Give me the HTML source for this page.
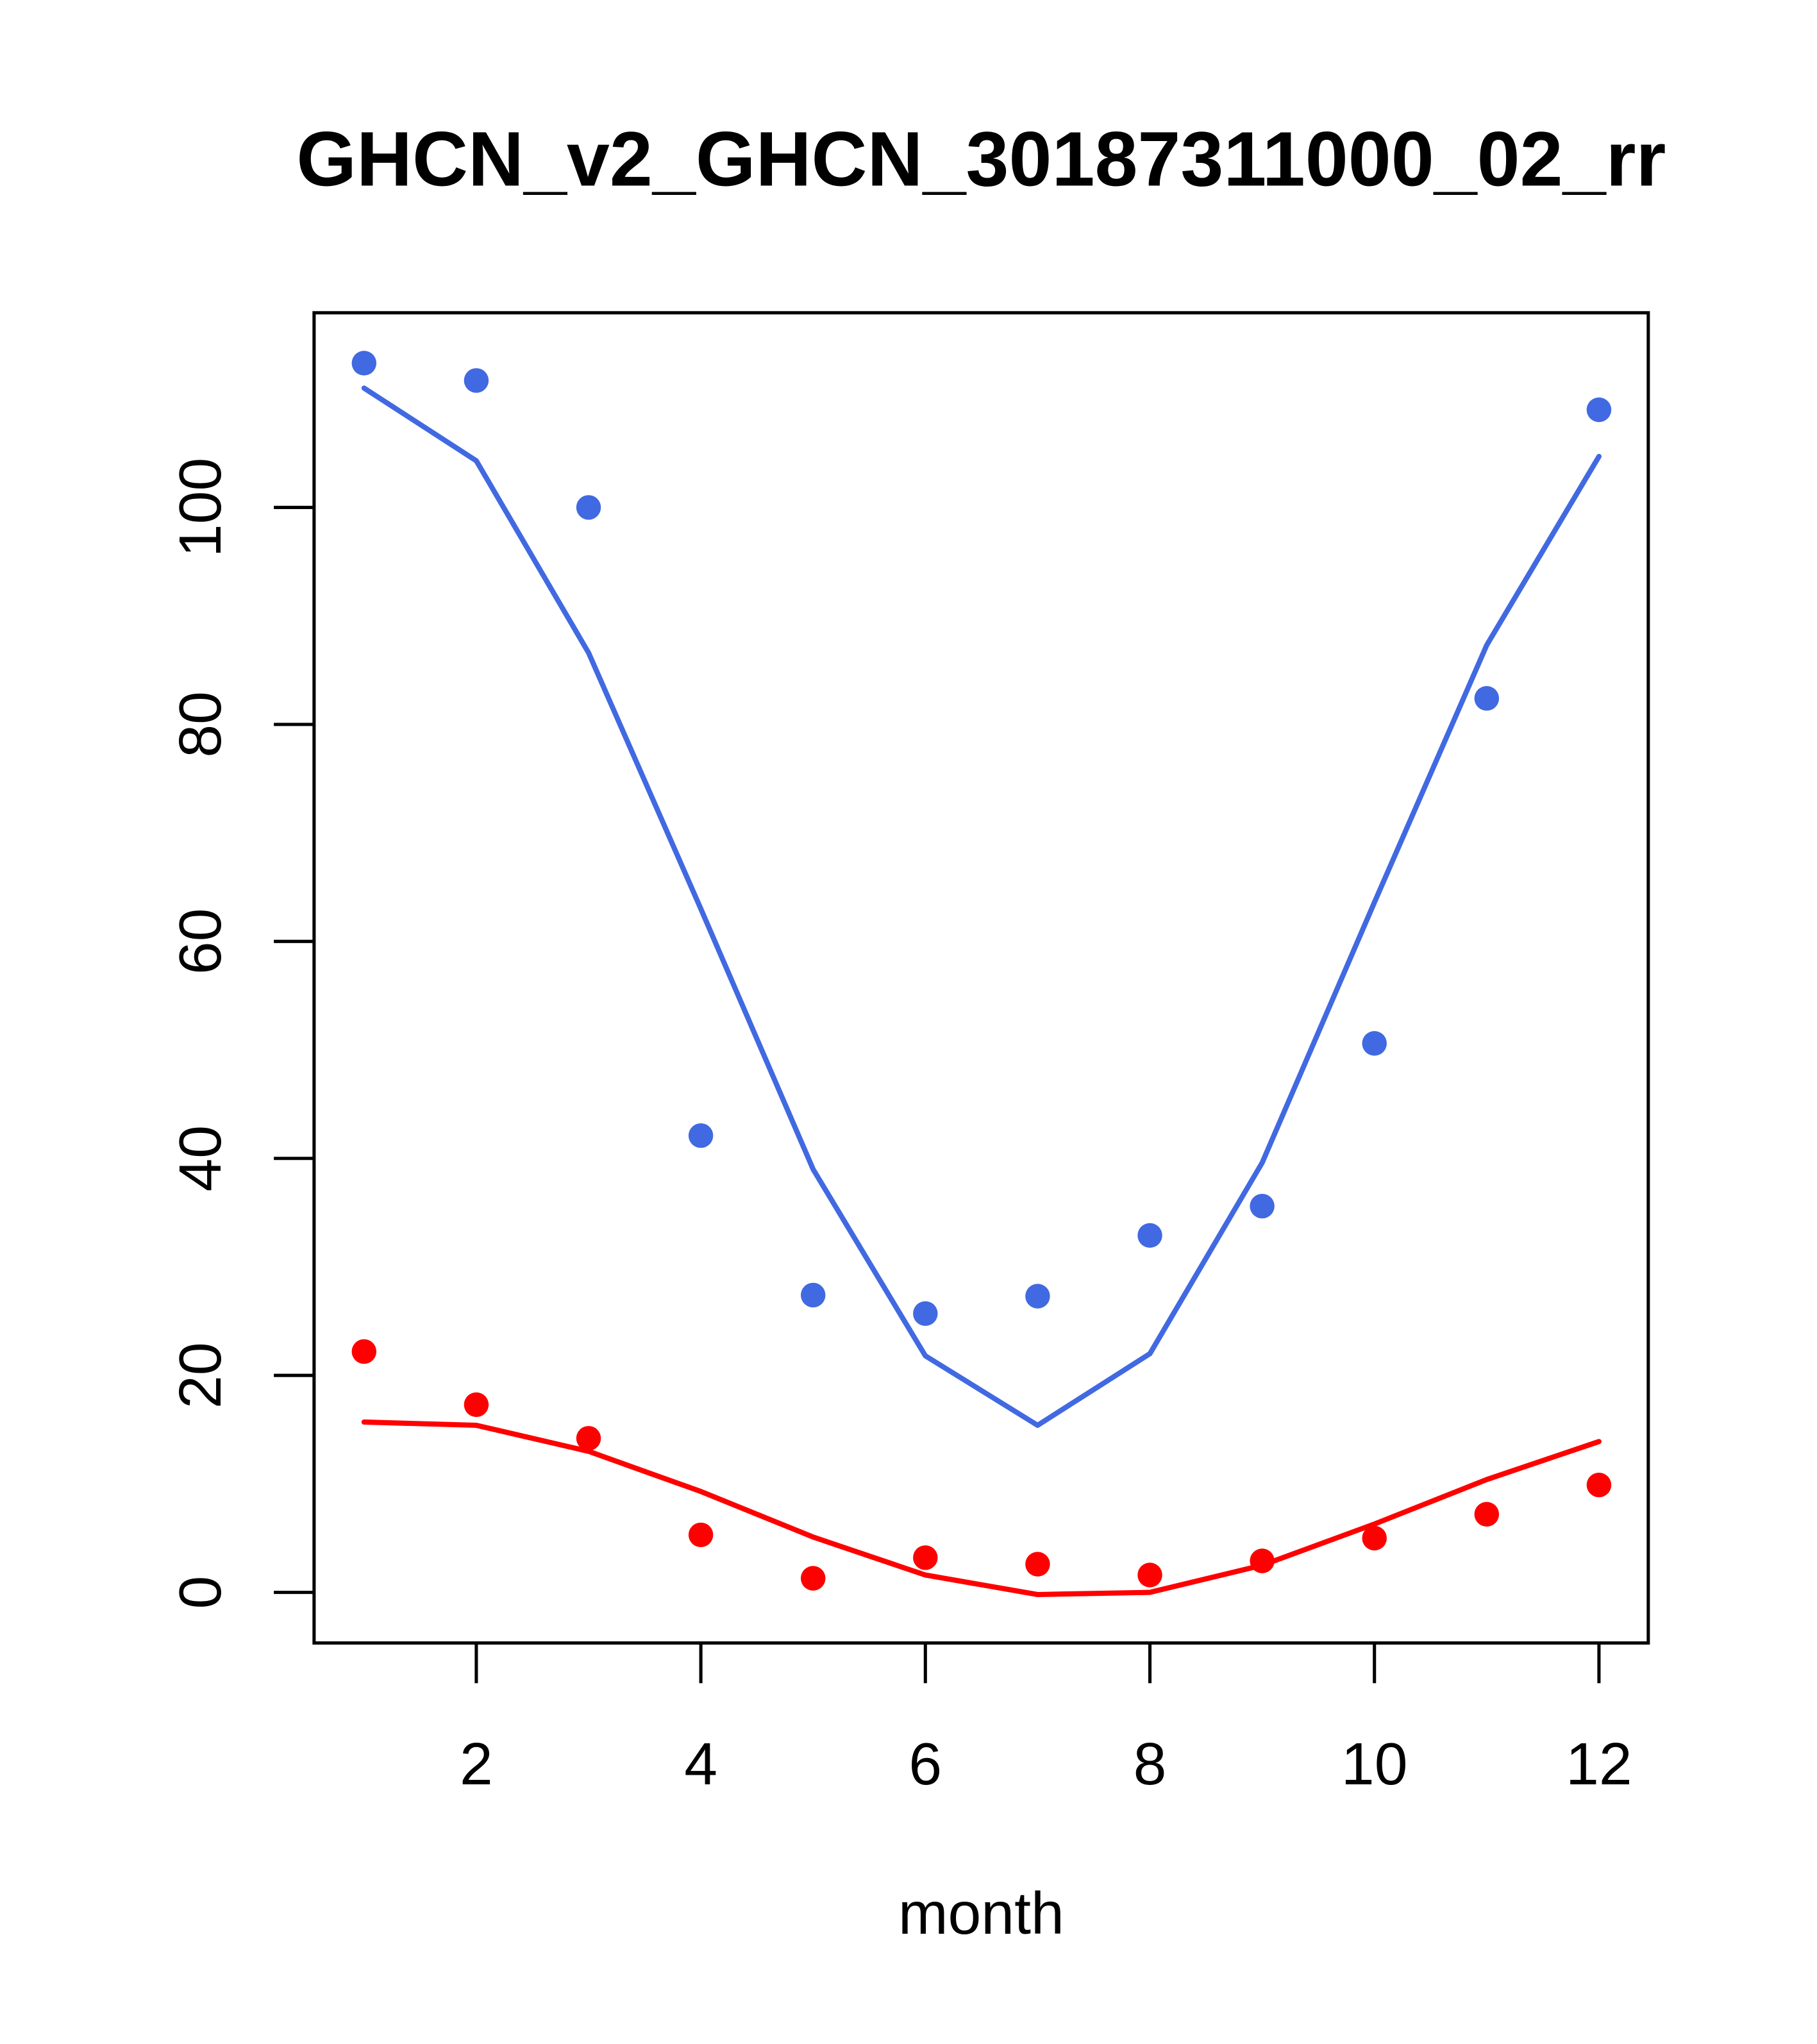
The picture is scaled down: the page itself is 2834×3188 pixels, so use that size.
<!DOCTYPE html>
<html><head><meta charset="utf-8"><style>
html,body{margin:0;padding:0;background:#fff;}
svg{display:block;}
text{font-family:"Liberation Sans",sans-serif;}
</style></head><body>
<svg id="chart" width="2834" height="3188" viewBox="0 0 1400 1575" preserveAspectRatio="none" xmlns="http://www.w3.org/2000/svg">
<rect width="1400" height="1575" fill="#fff"/>
<text x="756" y="143" text-anchor="middle" font-size="59.5" font-weight="bold">GHCN_v2_GHCN_30187311000_02_rr</text>
<rect x="242" y="241" width="1028" height="1025" fill="none" stroke="#000" stroke-width="2.5"/>
<text x="756" y="1490" text-anchor="middle" font-size="46">month</text>
<g id="g"></g>
</svg>
<script>
const months=[1,2,3,4,5,6,7,8,9,10,11,12];
const bluePoints=[113.3,111.7,100,42.1,27.4,25.7,27.3,32.9,35.6,50.6,82.4,109];
const blueLine=[111,104.3,86.6,63,39,21.8,15.4,22,39.6,63.6,87.3,104.7];
const redPoints=[22.2,17.3,14.2,5.3,1.3,3.2,2.6,1.6,2.9,5.0,7.2,9.9];
const redLine=[15.7,15.4,13,9.3,5.1,1.6,-0.2,0,2.5,6.3,10.4,13.9];
const xTicks=[2,4,6,8,10,12];
const yTicks=[0,20,40,60,80,100];
const X=m=>280.5+(m-1)*86.5;
const Y=v=>1227-v*8.36;
const NS="http://www.w3.org/2000/svg";
const g=document.getElementById('g');
function mk(t,a){const e=document.createElementNS(NS,t);for(const k in a)e.setAttribute(k,a[k]);g.appendChild(e);return e;}
xTicks.forEach(t=>{
  const l=mk('line',{x1:X(t),x2:X(t),y1:1266,y2:1297,stroke:'#000','stroke-width':2.5});
  
  
  const tx=mk('text',{x:X(t),y:1375,'text-anchor':'middle','font-size':46});
  tx.textContent=t;
  
  
});
yTicks.forEach(t=>{
  const l=mk('line',{x1:211,x2:242,y1:Y(t),y2:Y(t),stroke:'#000','stroke-width':2.5});
  
  
  const tx=mk('text',{x:0,y:0,'text-anchor':'middle','font-size':46,transform:`translate(170,${Y(t)}) rotate(-90)`});
  tx.textContent=t;
  
  
});
function line(arr,c,name){
  const p=mk('polyline',{points:arr.map((v,i)=>X(months[i])+','+Y(v)).join(' '),fill:'none',stroke:c,'stroke-width':4,'stroke-linejoin':'round','stroke-linecap':'round'});
  
  
}
function pts(arr,c,name){
  arr.forEach((v,i)=>{
    const e=mk('circle',{cx:X(months[i]),cy:Y(v),r:9.5,fill:c});
    
    
  });
}
line(blueLine,'#4169e1','blue-line');
line(redLine,'#ff0000','red-line');
pts(bluePoints,'#4169e1','blue-point');
pts(redPoints,'#ff0000','red-point');
</script>
</body></html>
